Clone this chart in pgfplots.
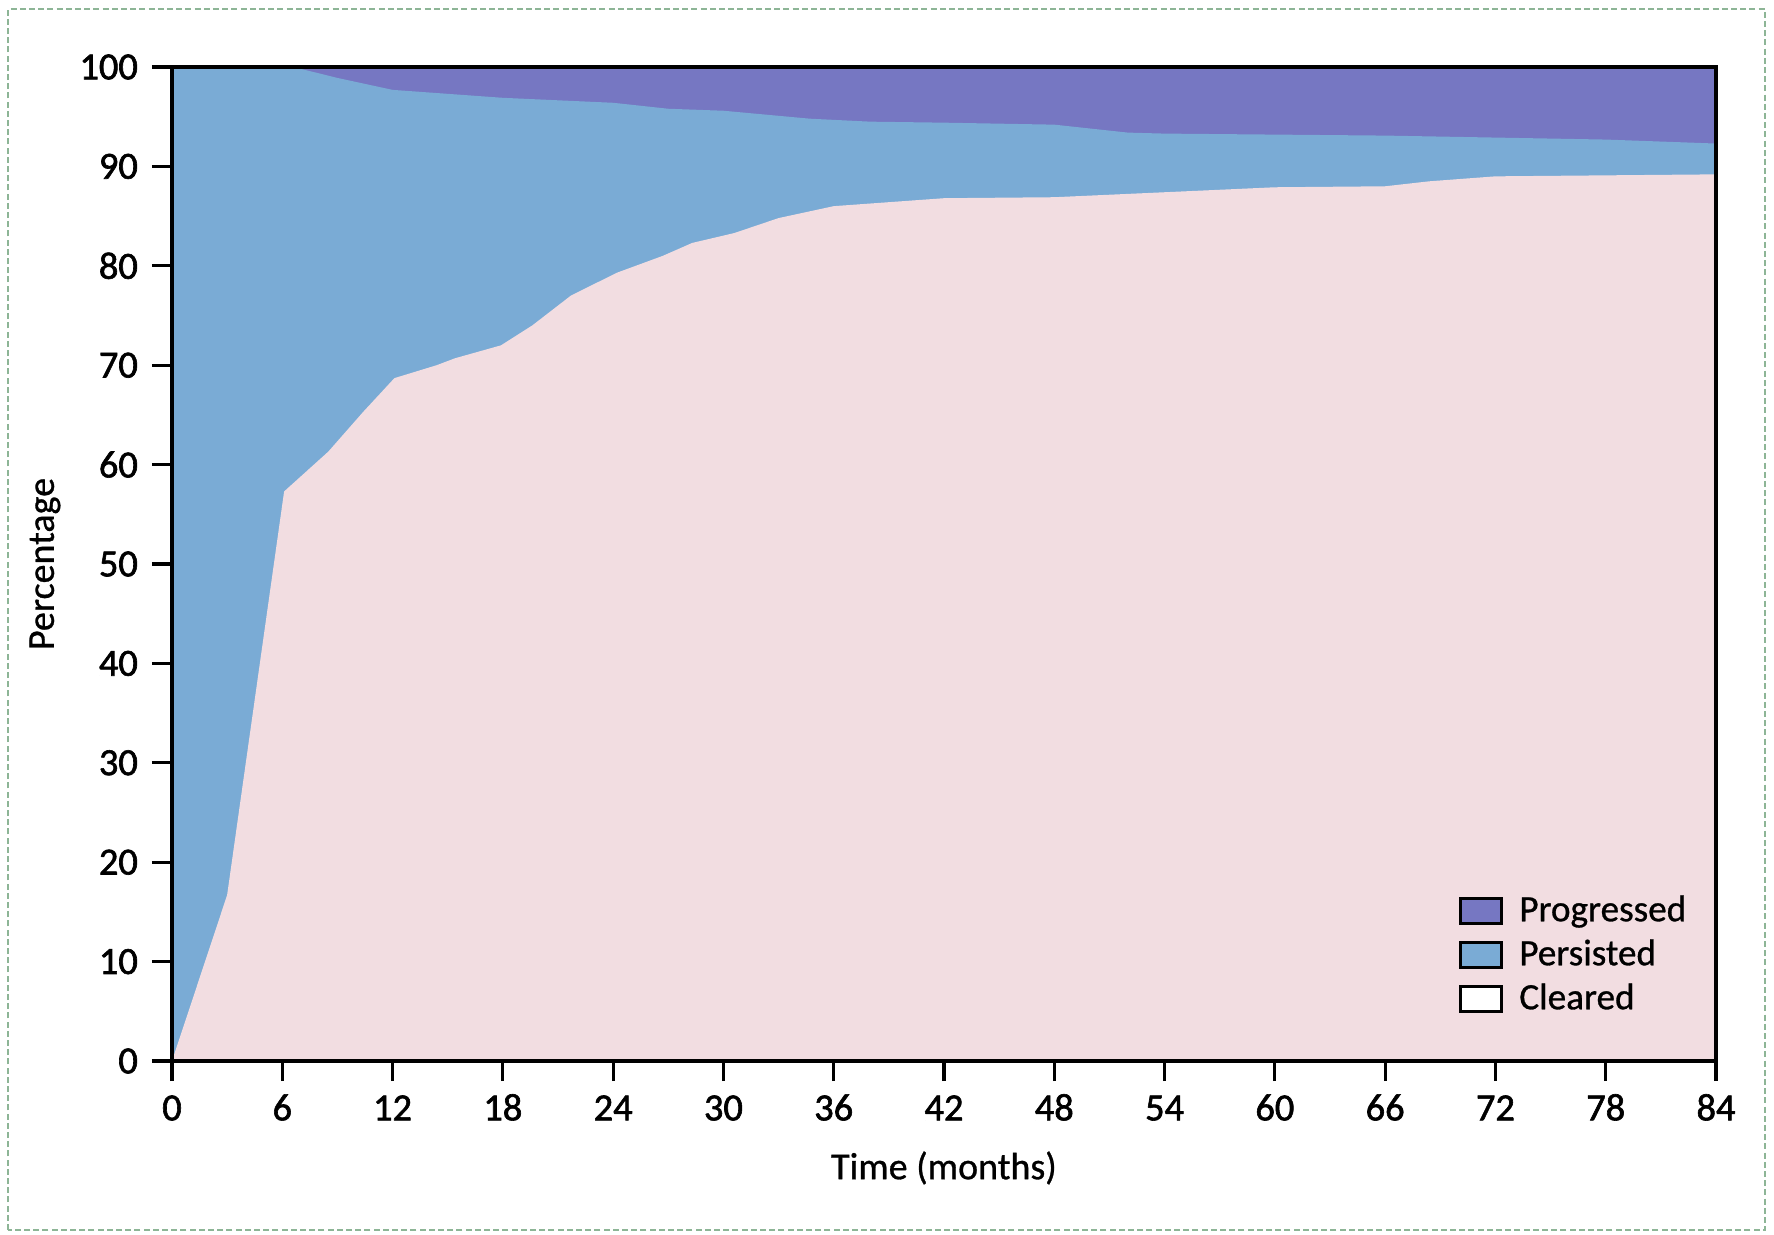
\documentclass[border=0pt]{standalone}
\usepackage{pgfplots}
\pgfplotsset{compat=1.18}
\usepackage{fontspec}
\setmainfont{Carlito}[FakeBold=0.8]
\newfontfamily\tickfont{Carlito}[FakeBold=1.6]
\definecolor{progC}{HTML}{7677C2}
\definecolor{persC}{HTML}{7AABD5}
\definecolor{clearC}{HTML}{F2DDE1}
\definecolor{frameC}{HTML}{8DB596}
\begin{document}
\begin{tikzpicture}
\path[use as bounding box] (-43pt,-43.25pt) rectangle (400.5pt,265.25pt);
\draw[frameC, line width=0.6pt, dash pattern=on 1.5pt off 0.8pt] (-41pt,-42.25pt) rectangle (398.25pt,263pt);
\begin{axis}[
  scale only axis, width=386pt, height=248.5pt,
  xmin=0, xmax=84, ymin=0, ymax=100,
  xtick={0,6,...,84}, ytick={0,10,...,100},
  xtick pos=bottom, ytick pos=left,
  tick align=outside, major tick length=5pt,
  tick style={black, line width=0.8pt},
  axis line style={black, line width=0.8pt},
  axis on top,
  font=\fontsize{9.5}{11}\selectfont,
  /pgf/number format/assume math mode=true,
  tick label style={font=\fontsize{9.6}{11}\tickfont},
  xticklabel style={text height=6.3pt, text depth=0pt},
  xlabel={Time (months)}, ylabel={Percentage},
  every axis x label/.style={at={(axis description cs:0.5,-0.1076)}, anchor=center},
  every axis y label/.style={at={(axis description cs:-0.0823,0.5)}, anchor=center, rotate=90},
  legend cell align=left,
  legend style={at={(axis description cs:0.833,0.174)}, anchor=north west, draw=none, fill=none,
    inner sep=0pt, row sep=0pt,
    /tikz/every odd column/.append style={column sep=3.5pt},
    nodes={inner sep=0.5pt, text height=7.6pt, text depth=2.4pt, font=\fontsize{9.3}{11}\selectfont}},
]
\addplot[draw=none, fill=progC, legend image code/.code={\draw[fill=progC, draw=black, line width=0.8pt] (0pt,-3.1pt) rectangle (10.3pt,3.1pt);}]
  coordinates {(0,100) (84,100)} \closedcycle;
\addlegendentry{Progressed}
\addplot[draw=none, fill=persC, legend image code/.code={\draw[fill=persC, draw=black, line width=0.8pt] (0pt,-3.1pt) rectangle (10.3pt,3.1pt);}]
  coordinates {(0,100) (6,100) (6.6,100) (9,98.9) (12,97.7) (18,96.9) (24,96.4) (27,95.8) (30,95.6) (34.7,94.8) (38,94.5) (42,94.4) (48,94.2) (52,93.4) (54,93.3) (60,93.2) (66,93.1) (72,92.9) (78,92.7) (84,92.3)} \closedcycle;
\addlegendentry{Persisted}
\addplot[draw=none, fill=clearC, legend image code/.code={\draw[fill=white, draw=black, line width=0.8pt] (0pt,-3.1pt) rectangle (10.3pt,3.1pt);}]
  coordinates {(0,0) (3,16.7) (6.1,57.3) (7,58.8) (8.5,61.3) (10.4,65.3) (12.1,68.7) (14.4,70) (15.4,70.7) (17.9,72) (19.6,74) (21.7,77) (24.2,79.3) (26.7,81) (28.3,82.3) (30.6,83.3) (33,84.8) (36,86) (42,86.8) (48,86.9) (54,87.4) (60,87.9) (66,88.0) (68.4,88.5) (72,89) (84,89.2)} \closedcycle;
\addlegendentry{Cleared}
\end{axis}
\end{tikzpicture}
\end{document}
